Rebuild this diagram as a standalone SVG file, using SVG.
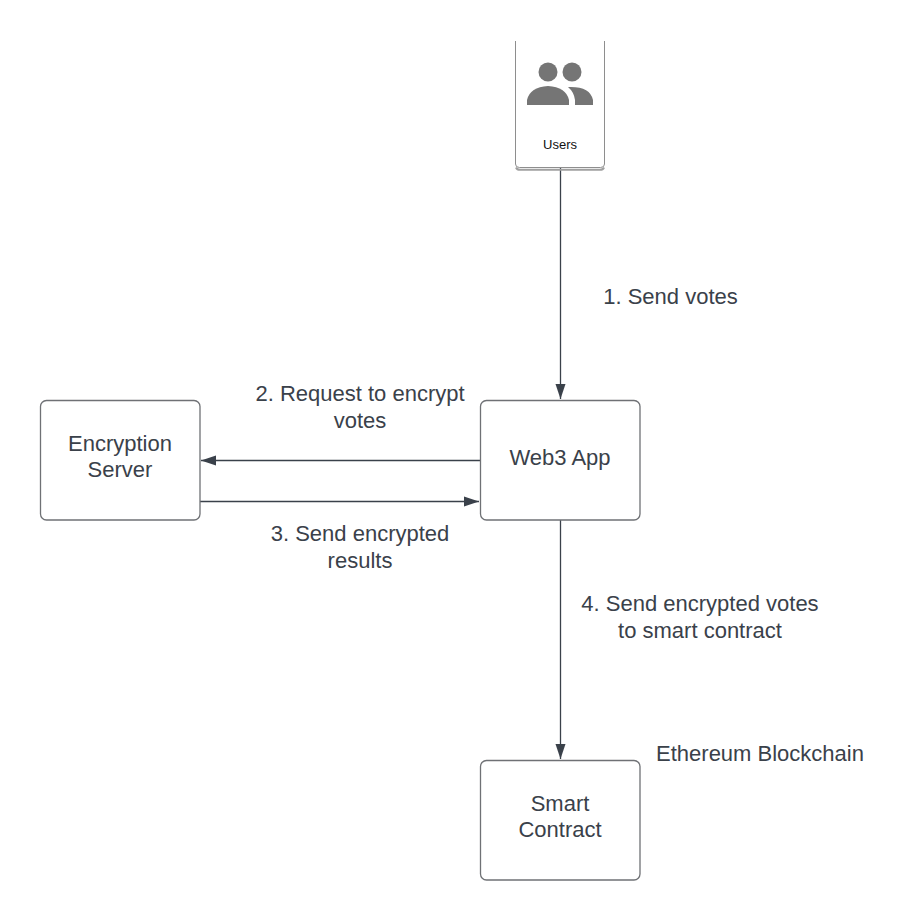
<svg xmlns="http://www.w3.org/2000/svg" width="920" height="920" viewBox="0 0 920 920">
<style>
.box{fill:#fff;stroke:#6f7175;stroke-width:1.3}
.t{font-family:"Liberation Sans",Arial,sans-serif;font-size:22px;fill:#3a414a;text-anchor:middle}
.c{fill:none;stroke:#3a414a;stroke-width:1.3}
</style>
<defs><marker id="a" markerUnits="userSpaceOnUse" markerWidth="16" markerHeight="11" refX="15" refY="5.500" orient="auto"><path d="M0 .5L15 5.500L0 10.500z" fill="#3a414a"/></marker></defs>
<rect width="920" height="920" fill="#fff"/>
<g id="connectors">
<path class="c" d="M560.500 168V399" marker-end="url(#a)"/>
<path class="c" d="M480 460.500H201" marker-end="url(#a)"/>
<path class="c" d="M200 501.500H479" marker-end="url(#a)"/>
<path class="c" d="M560.500 520V759" marker-end="url(#a)"/>
</g>
<g id="users">
<path d="M515.500 41V164Q515.500 167.500 519.500 167.500H600.500Q604.500 167.500 604.500 164V41" fill="#fff" stroke="#8e8e8e" stroke-width="1"/>
<path d="M516 167.500Q517 169.800 520 169.800H600Q603 169.800 604 167.500" fill="none" stroke="#a0a0a0" stroke-width="2"/>
<circle cx="548" cy="72" r="9.500" fill="#757575"/><circle cx="572" cy="72" r="9.500" fill="#757575"/>
<path d="M527 105V100Q530 87 548 86Q566 87 569 100V105z" fill="#757575"/>
<path d="M575 105V100Q574 92 568 87Q590 86 593 100V105z" fill="#757575"/>
<text x="560" y="148.500" style="font-family:'Liberation Sans',Arial,sans-serif;font-size:13px;fill:#111;text-anchor:middle">Users</text>
</g>
<g id="encryption-server"><rect class="box" x="40.500" y="400.500" width="159.500" height="119.500" rx="6"/><text class="t" x="120" y="450.500">Encryption</text><text class="t" x="120" y="477">Server</text></g>
<g id="web3-app"><rect class="box" x="480.500" y="400.500" width="159.500" height="119.500" rx="6"/><text class="t" x="560" y="465">Web3 App</text></g>
<g id="smart-contract"><rect class="box" x="480.500" y="760.500" width="159.500" height="119.500" rx="6"/><text class="t" x="560" y="810.500">Smart</text><text class="t" x="560" y="837">Contract</text></g>
<g id="labels">
<text class="t" x="670.500" y="304">1. Send votes</text>
<text class="t" x="360" y="401">2. Request to encrypt</text><text class="t" x="360" y="428">votes</text>
<text class="t" x="360" y="541">3. Send encrypted</text><text class="t" x="360" y="568">results</text>
<text class="t" x="700" y="611">4. Send encrypted votes</text><text class="t" x="700" y="638">to smart contract</text>
<text class="t" x="760" y="761">Ethereum Blockchain</text>
</g>
</svg>
